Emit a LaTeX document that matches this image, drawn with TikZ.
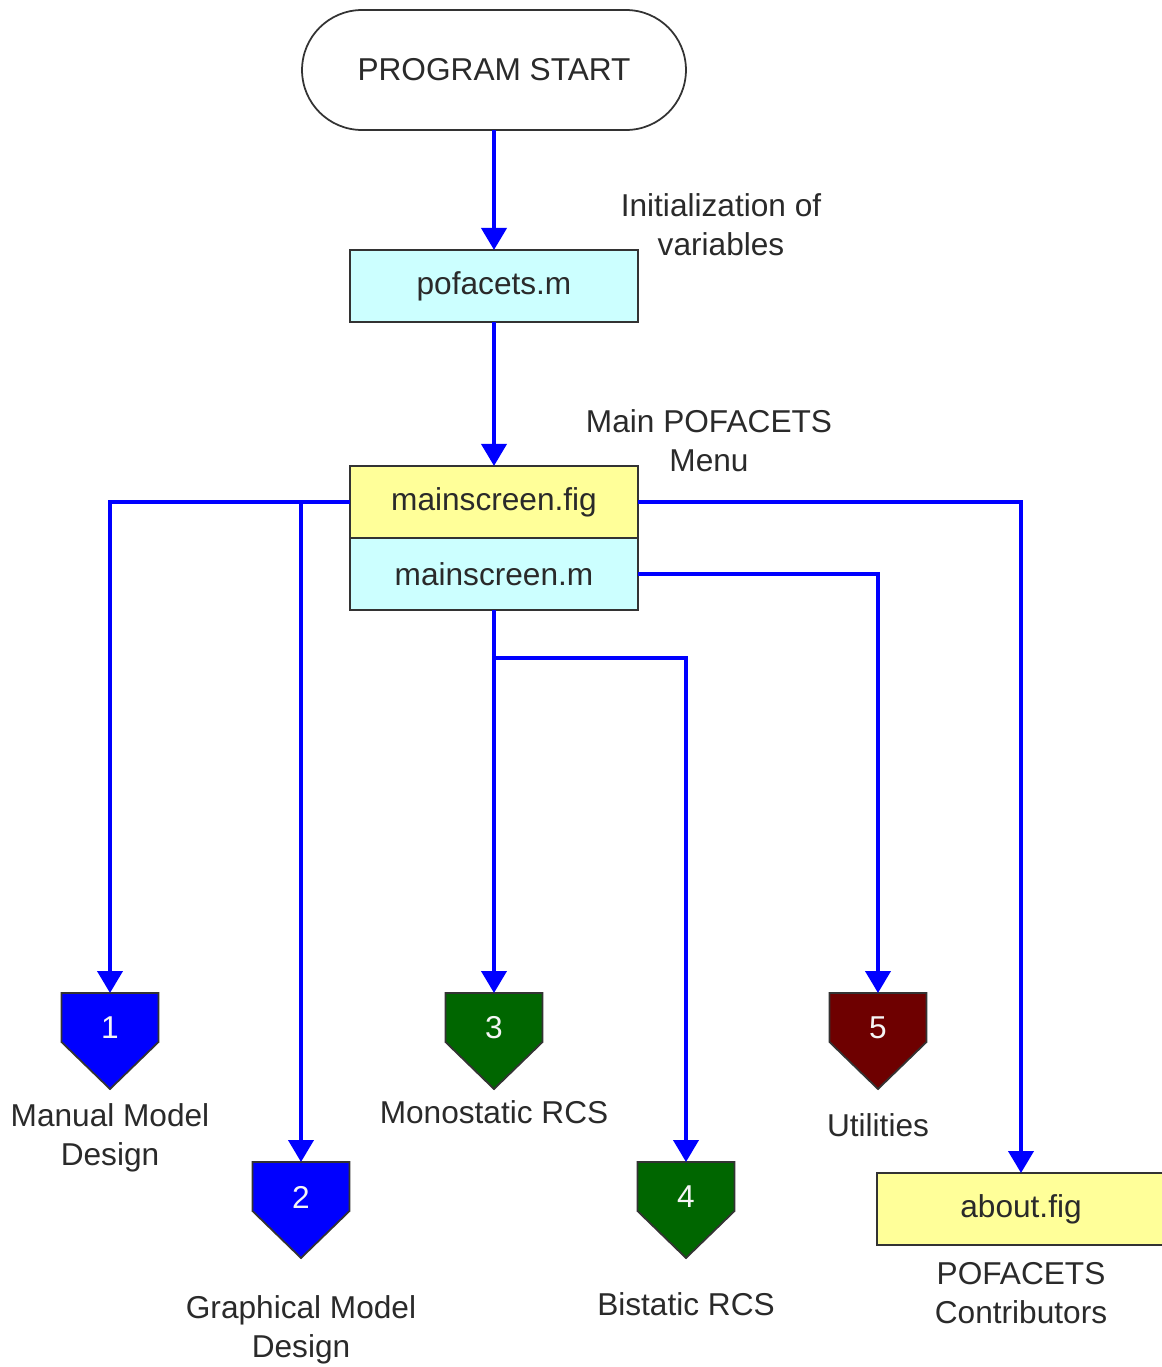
\documentclass[tikz,border=0pt]{standalone}
\usepackage{fontspec}
\setmainfont{Liberation Sans}
\usetikzlibrary{positioning, arrows.meta, calc}

\definecolor{filecyan}{HTML}{CCFFFF}
\definecolor{fileyellow}{HTML}{FFFF99}
\definecolor{flowblue}{HTML}{0000FF}
\definecolor{offgreen}{HTML}{006600}
\definecolor{offred}{HTML}{6E0000}
\definecolor{edgegray}{HTML}{333333}
\definecolor{textgray}{HTML}{2A2A2A}

\begin{document}
\begin{tikzpicture}[
        x=0.02cm, y=-0.02cm,
        font=\fontsize{18}{22}\selectfont,
        text=textgray,
        terminal/.style={rectangle, rounded corners=1.2cm, draw=edgegray, line width=1pt, outer sep=0, minimum width=7.68cm, minimum height=2.4cm},
        file/.style={rectangle, draw=edgegray, line width=1pt, outer sep=0, inner sep=0, minimum width=5.76cm, minimum height=1.44cm},
        note/.style={align=center, inner sep=0},
        offpage/.style={minimum width=1.94cm, minimum height=1.4cm, inner sep=0, outer sep=0, anchor=north, text=white!92!gray},
        flow/.style={draw=flowblue, line width=2.3pt, -{Triangle[width=0.5cm, length=0.44cm]}}
    ]
        \useasboundingbox (0,0) rectangle (1161,1367);

        % Start and initialization
        \node[terminal] (Start) at (494,70) {PROGRAM START};
        \node[file, fill=filecyan, below=2.4cm of Start] (Pofacets) {pofacets.m};
        \node[note] (InitNote) at (721,225) {Initialization of\\variables};

        % Main menu
        \node[file, fill=fileyellow, below=2.88cm of Pofacets] (MainFig) {mainscreen.fig};
        \node[file, fill=filecyan, below=0pt of MainFig] (MainM) {mainscreen.m};
        \node[note] (MenuNote) at (709,441) {Main POFACETS\\Menu};

        % Off-page connectors
        \foreach \n/\cx/\cy/\col in {1/110/993/flowblue, 2/301/1162/flowblue, 3/494/993/offgreen, 4/686/1162/offgreen, 5/878/993/offred}{
            \filldraw[fill=\col, draw=edgegray, line width=1pt] (\cx-48.5,\cy) -- ++(97,0) -- ++(0,49) -- (\cx,\cy+96) -- (\cx-48.5,\cy+49) -- cycle;
            \node[offpage] (Off\n) at (\cx,\cy) {\n};
        }

        % Labels
        \node[note] (ManualNote) at (110,1138) {Manual Model\\Design};
        \node[note] (GraphNote) at (301,1330) {Graphical Model\\Design};
        \node[note] (MonoNote) at (494,1112) {Monostatic RCS};
        \node[note] (BiNote) at (686,1304) {Bistatic RCS};
        \node[note] (UtilNote) at (878,1125) {Utilities};

        % About box
        \node[file, fill=fileyellow] (AboutFig) at (1021,1209) {about.fig};
        \node[note] (AboutNote) at (1021,1293) {POFACETS\\Contributors};

        % Flow
        \draw[flow] (Start) -- (Pofacets);
        \draw[flow] (Pofacets) -- (MainFig);
        \draw[flow] (MainFig.west) -| (Off1.north);
        \draw[flow] (MainFig.west -| Off2.north) -- (Off2.north);
        \draw[flow] (MainFig.east) -| (AboutFig.north);
        \draw[flow] (MainM.east) -| (Off5.north);
        \draw[flow] (MainM.south) -- (Off3.north);
        \coordinate (Split) at ($(MainM.south)+(0,48)$);
        \draw[flow] (Split) -| (Off4.north);

    \end{tikzpicture}
\end{document}
